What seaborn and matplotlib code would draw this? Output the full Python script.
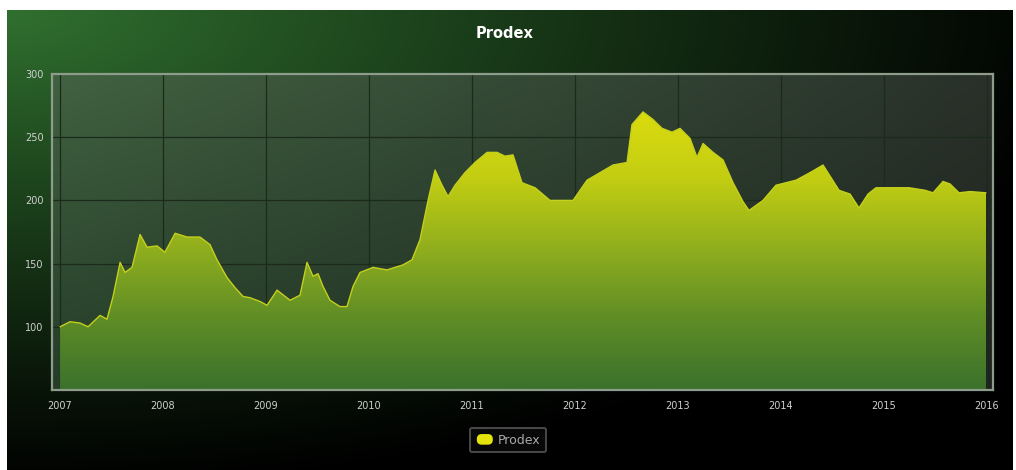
import numpy as np
import pandas as pd
import matplotlib
matplotlib.use("Agg")
import matplotlib.pyplot as plt
import seaborn as sns
from matplotlib.colors import LinearSegmentedColormap, to_rgb
from matplotlib.patches import PathPatch, Patch, FancyBboxPatch
from matplotlib.legend_handler import HandlerPatch

# ---------------- data (decimal years, index values) ----------------
dates = [2007.000, 2007.097, 2007.194, 2007.272, 2007.388, 2007.456, 2007.515, 2007.583,
         2007.631, 2007.699, 2007.777, 2007.845, 2007.942, 2008.019, 2008.117, 2008.233,
         2008.359, 2008.456, 2008.524, 2008.621, 2008.699, 2008.777, 2008.845, 2008.942,
         2009.010, 2009.107, 2009.233, 2009.330, 2009.398, 2009.456, 2009.505, 2009.553,
         2009.621, 2009.718, 2009.786, 2009.845, 2009.913, 2010.039, 2010.175, 2010.330,
         2010.417, 2010.495, 2010.573, 2010.641, 2010.709, 2010.767, 2010.835, 2010.932,
         2011.029, 2011.146, 2011.243, 2011.320, 2011.398, 2011.485, 2011.612, 2011.757,
         2011.981, 2012.117, 2012.243, 2012.369, 2012.505, 2012.553, 2012.660, 2012.757,
         2012.845, 2012.942, 2013.019, 2013.117, 2013.184, 2013.243, 2013.340, 2013.437,
         2013.534, 2013.631, 2013.689, 2013.825, 2013.951, 2014.146, 2014.282, 2014.408,
         2014.563, 2014.670, 2014.757, 2014.845, 2014.922, 2015.058, 2015.243, 2015.398,
         2015.476, 2015.573, 2015.641, 2015.728, 2015.835, 2015.990]
values = [100, 104, 103, 100, 109, 106, 124, 151,
          143, 147, 173, 163, 164, 159, 174, 171,
          171, 165, 153, 139, 131, 124, 123, 120,
          117, 129, 121, 125, 151, 140, 142, 132,
          121, 116, 116, 132, 143, 147, 145, 149,
          153, 169, 200, 224, 212, 203, 212, 222,
          230, 238, 238, 235, 236, 214, 210, 200,
          200, 216, 222, 228, 230, 260, 270, 264,
          257, 254, 257, 249, 234, 245, 238, 232,
          214, 199, 192, 200, 212, 216, 222, 228,
          208, 205, 194, 205, 210, 210, 210, 208,
          206, 215, 213, 206, 207, 206]
series_name = "Prodex"
title = "Prodex"
x_ticks = [2007, 2008, 2009, 2010, 2011, 2012, 2013, 2014, 2015, 2016]
y_ticks = [100, 150, 200, 250, 300]

df = pd.DataFrame({"date": dates, "value": values})

# ---------------- figure ----------------
sns.set_style("dark")
plt.rcParams["font.family"] = ["DejaVu Sans"]
W, H = 1016, 470
fig = plt.figure(figsize=(W / 100, H / 100), dpi=100)
fig.patch.set_facecolor("white")

# panel background gradient
bg = fig.add_axes([7 / W, 0, 1006 / W, 460 / H])
bg.axis("off")
gh, gw = 230, 500
u = np.linspace(0, 1, gw)[None, :]
v = np.linspace(0, 1, gh)[:, None]
t = np.clip(np.sqrt((u / 1.1) ** 2 + (v / 1.05) ** 2), 0, 1)
green = np.array(to_rgb("#30702f"))
img = (1 - t)[..., None] ** 1.1 * green[None, None, :]
bg.imshow(img, aspect="auto", extent=[0, 1, 0, 1], origin="upper")
bg.set_xlim(0, 1)
bg.set_ylim(0, 1)

# plot axes
left, right, top, bottom = 52, 993, 74, 390
ax = fig.add_axes([left / W, 1 - bottom / H, (right - left) / W, (bottom - top) / H])
ax.set_facecolor("none")

# plot area gradient (bilinear)
TL, TR = np.array(to_rgb("#416241")), np.array(to_rgb("#29312a"))
BL, BR = np.array(to_rgb("#243c28")), np.array(to_rgb("#1c221c"))
pu = np.linspace(0, 1, 300)[None, :, None]
pv = np.linspace(0, 1, 150)[:, None, None]
pimg = (TL * (1 - pu) * (1 - pv) + TR * pu * (1 - pv) + BL * (1 - pu) * pv + BR * pu * pv)
ax.imshow(pimg, aspect="auto", extent=[0, 1, 0, 1], origin="upper",
          transform=ax.transAxes, zorder=0)

xmin, xmax = 2006.922, 2016.058
ymin, ymax = 50, 300

# grid
for xt in x_ticks:
    ax.axvline(xt, color="#1c2a1c", lw=0.9, zorder=1)
for yt in y_ticks[:-1]:
    ax.axhline(yt, color="#1c2a1c", lw=0.9, zorder=1)

# gradient area fill
poly = ax.fill_between(df["date"], df["value"], ymin, facecolor="none", edgecolor="none", zorder=2)
clip = PathPatch(poly.get_paths()[0], transform=ax.transData, facecolor="none", edgecolor="none")
ax.add_patch(clip)
cmap = LinearSegmentedColormap.from_list(
    "fill", [(0.0, "#3b712c"), (0.25, "#5e8c26"), (0.5, "#8fae1e"), (0.75, "#c2cd12"), (1.0, "#dcdc0e")])
grad = np.linspace(0, 1, 256)[:, None]
fim = ax.imshow(grad, aspect="auto", cmap=cmap, origin="lower",
                extent=[dates[0], dates[-1], ymin, 272], zorder=2)
fim.set_clip_path(clip)

sns.lineplot(data=df, x="date", y="value", ax=ax, color="#c4d01c", lw=1.0,
             legend=False, zorder=3)

ax.set_xlim(xmin, xmax)
ax.set_ylim(ymin, ymax)
ax.set_xticks(x_ticks)
ax.set_xticklabels([str(x) for x in x_ticks])
ax.set_yticks(y_ticks)
ax.set_yticklabels([str(y) for y in y_ticks])
ax.set_xlabel("")
ax.set_ylabel("")
ax.tick_params(axis="both", colors="#8a9a8a", labelcolor="#d0d0d0", labelsize=7,
               length=3, width=1, direction="out", pad=3)
ax.tick_params(axis="x", pad=5)
for s in ax.spines.values():
    s.set_visible(True)
    s.set_color("#8e9c8c")
    s.set_linewidth(1.6)
ax.grid(False)

fig.text(0.497, 1 - 34 / H, title, ha="center", va="center", color="white",
         fontsize=10.5, fontweight="bold")


class RoundHandler(HandlerPatch):
    def create_artists(self, legend, orig_handle, xdescent, ydescent, width, height,
                       fontsize, trans):
        p = FancyBboxPatch((-xdescent + 1.5, -ydescent + 1), width - 3, height - 2,
                           boxstyle="round,pad=0,rounding_size=3",
                           facecolor=orig_handle.get_facecolor(),
                           edgecolor=orig_handle.get_edgecolor(), transform=trans)
        return [p]


handle = Patch(facecolor="#e4e40c", edgecolor="#e4e40c", label=series_name)
leg = fig.legend(handles=[handle], loc="center", bbox_to_anchor=(508 / W, 1 - 440 / H),
                 frameon=True, fancybox=True, fontsize=9, handlelength=1.5,
                 handleheight=1.1, handletextpad=0.3, borderpad=0.45, labelcolor="#a8a8a8",
                 handler_map={Patch: RoundHandler()})
leg.get_frame().set_facecolor("#0b0b0b")
leg.get_frame().set_edgecolor("#5a5a5a")
leg.get_frame().set_linewidth(1.4)

fig.savefig("out.png", dpi=100)
